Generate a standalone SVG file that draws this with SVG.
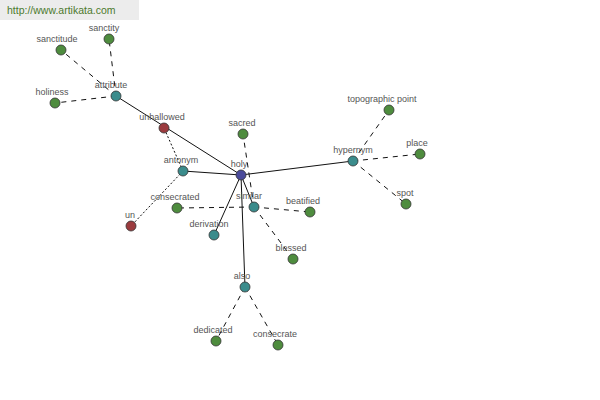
<svg xmlns="http://www.w3.org/2000/svg" width="600" height="400" viewBox="0 0 600 400">
<style>
text{font-family:"Liberation Sans",Arial,sans-serif;font-size:9px;fill:#555;text-anchor:middle}
.hdr{font-size:10.5px;fill:#4c7a2c;text-anchor:start}
.s{stroke:#111;stroke-width:1;fill:none}
.d{stroke:#111;stroke-width:1;fill:none;stroke-dasharray:5,5}
.o{stroke:#111;stroke-width:1;fill:none;stroke-dasharray:2,2}
circle{stroke:#333;stroke-width:0.8}
.g{fill:#4e8c3e}.t{fill:#3b8c8c}.r{fill:#9b3b3e}.b{fill:#4a4a9a}
</style>
<rect width="600" height="400" fill="#fff"/>
<rect x="0" y="0" width="139" height="20" fill="#ececec"/>
<text class="hdr" x="7" y="14">http://www.artikata.com</text>
<g id="connectors">
<line class="s" x1="241" y1="175" x2="116" y2="96"/>
<line class="s" x1="241" y1="175" x2="183" y2="171"/>
<line class="s" x1="241" y1="175" x2="353" y2="161"/>
<line class="s" x1="241" y1="175" x2="254" y2="207"/>
<line class="s" x1="241" y1="175" x2="214" y2="235"/>
<line class="s" x1="241" y1="175" x2="245" y2="287"/>
<line class="d" x1="116" y1="96" x2="109" y2="39"/>
<line class="d" x1="116" y1="96" x2="61" y2="50"/>
<line class="d" x1="116" y1="96" x2="55" y2="103"/>
<line class="o" x1="183" y1="171" x2="164" y2="128"/>
<line class="o" x1="183" y1="171" x2="131" y2="226"/>
<line class="d" x1="254" y1="207" x2="243" y2="134"/>
<line class="d" x1="254" y1="207" x2="177" y2="208"/>
<line class="d" x1="254" y1="207" x2="310" y2="212"/>
<line class="d" x1="254" y1="207" x2="293" y2="259"/>
<line class="d" x1="245" y1="287" x2="216" y2="341"/>
<line class="d" x1="245" y1="287" x2="278" y2="345"/>
<line class="d" x1="353" y1="161" x2="389" y2="110"/>
<line class="d" x1="353" y1="161" x2="420" y2="154"/>
<line class="d" x1="353" y1="161" x2="406" y2="204"/>
</g>
<g id="sanctity"><circle class="g" cx="109" cy="39" r="5"/><text x="104" y="31">sanctity</text></g>
<g id="sanctitude"><circle class="g" cx="61" cy="50" r="5"/><text x="57" y="42">sanctitude</text></g>
<g id="holiness"><circle class="g" cx="55" cy="103" r="5"/><text x="52" y="95">holiness</text></g>
<g id="attribute"><circle class="t" cx="116" cy="96" r="5"/><text x="111" y="88">attribute</text></g>
<g id="unhallowed"><circle class="r" cx="164" cy="128" r="5"/><text x="162" y="120">unhallowed</text></g>
<g id="antonym"><circle class="t" cx="183" cy="171" r="5"/><text x="181" y="163">antonym</text></g>
<g id="un"><circle class="r" cx="131" cy="226" r="5"/><text x="130" y="218">un</text></g>
<g id="sacred"><circle class="g" cx="243" cy="134" r="5"/><text x="242" y="126">sacred</text></g>
<g id="consecrated"><circle class="g" cx="177" cy="208" r="5"/><text x="175" y="200">consecrated</text></g>
<g id="similar"><circle class="t" cx="254" cy="207" r="5"/><text x="249" y="199">similar</text></g>
<g id="beatified"><circle class="g" cx="310" cy="212" r="5"/><text x="303" y="204">beatified</text></g>
<g id="derivation"><circle class="t" cx="214" cy="235" r="5"/><text x="209" y="227">derivation</text></g>
<g id="blessed"><circle class="g" cx="293" cy="259" r="5"/><text x="291" y="251">blessed</text></g>
<g id="also"><circle class="t" cx="245" cy="287" r="5"/><text x="242" y="279">also</text></g>
<g id="dedicated"><circle class="g" cx="216" cy="341" r="5"/><text x="213" y="333">dedicated</text></g>
<g id="consecrate"><circle class="g" cx="278" cy="345" r="5"/><text x="275" y="337">consecrate</text></g>
<g id="hypernym"><circle class="t" cx="353" cy="161" r="5"/><text x="353" y="153">hypernym</text></g>
<g id="topographic_point"><circle class="g" cx="389" cy="110" r="5"/><text x="382" y="102">topographic point</text></g>
<g id="place"><circle class="g" cx="420" cy="154" r="5"/><text x="417" y="146">place</text></g>
<g id="spot"><circle class="g" cx="406" cy="204" r="5"/><text x="405" y="196">spot</text></g>
<g id="holy"><circle class="b" cx="241" cy="175" r="5"/><text x="239" y="167">holy</text></g>
</svg>
